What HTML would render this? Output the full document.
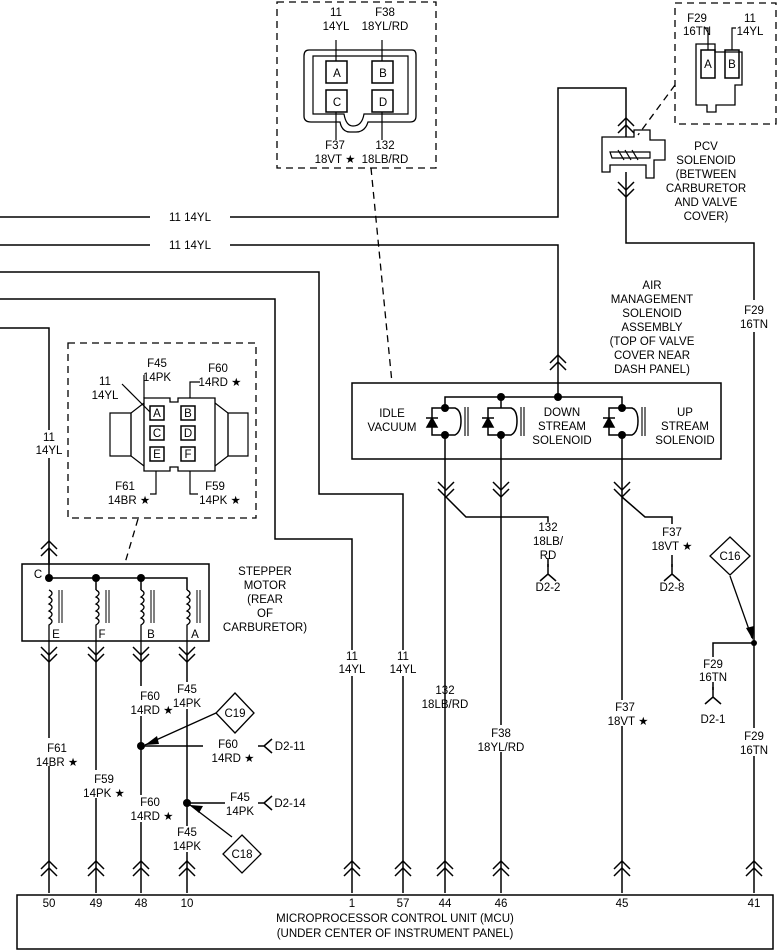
<!DOCTYPE html>
<html><head><meta charset="utf-8"><style>
html,body{margin:0;padding:0;background:#fff}
svg{display:block}
text{font-family:"Liberation Sans",sans-serif;font-size:11.5px;fill:#000;text-anchor:middle}
</style></head><body>
<svg width="783" height="950" viewBox="0 0 783 950" xmlns="http://www.w3.org/2000/svg">
<defs>
<g id="up" fill="none" stroke="#000" stroke-width="1.5"><path d="M-8,6 L0,-2 L8,6 M-8,13 L0,5 L8,13"/></g>
<g id="dn" fill="none" stroke="#000" stroke-width="1.5"><path d="M-8,-6 L0,2 L8,-6 M-8,-13 L0,-5 L8,-13"/></g>
<g id="yk" fill="none" stroke="#000" stroke-width="1.5"><path d="M0,-10 L0,0 M-8,7 L0,0 L8,7"/></g>
</defs>
<g fill="none" stroke="#000" stroke-width="1.5">
<path d="M0,217 H150 M230,217 H558 V88 H626 V137"/>
<path d="M0,245 H150 M230,245 H558 V380"/>
<path d="M0,272 H319 V494 H403 V650 M403,676 V893"/>
<path d="M0,299 H275 V539 H352 V650 M352,676 V893"/>
<path d="M0,328 H49 V430 M49,458 V563"/>
<path d="M626,172 V243 H754 V300 M754,332 V728 M754,756 V893"/>
<path d="M602,137 H634 V130 H650 V140 H665 V160 H654 V178 H646 V165 H610 V172 H602 Z" stroke-width="1.3"/>
<path d="M610,152 H650 V158 H612 Z" stroke-width="1.2"/>
<path d="M618,150 L624,160 M625,150 L631,160 M632,150 L638,160" stroke-width="1.2"/>
<path d="M696,44 H715 V52 H742 V85 H735 V105 H716 V112 H707 V105 H696 Z" stroke-width="1.3"/>
<rect x="701" y="50" width="14" height="28"/><rect x="725" y="50" width="14" height="28"/>
<path d="M708,50 V28 H704 M732,50 V28 H736" stroke-width="1.2"/>
<path d="M309,50 H412 Q416,50 416,55 V116 Q416,122 410,122 H368 Q365,132 356,132 H350 Q342,132 340,122 H311 Q304,122 304,116 V56 Q304,50 309,50 Z" stroke-width="1.3"/>
<path d="M313,56 H408 V114 H364 Q362,126 353,126 Q346,126 344,114 H313 Z" stroke-width="1.2"/>
<rect x="326" y="61" width="21" height="22"/><rect x="372" y="61" width="21" height="22"/>
<rect x="326" y="90" width="21" height="22"/><rect x="372" y="90" width="21" height="22"/>
<path d="M336,61 V40 M382,61 V40 M336,112 V140 M382,112 V140" stroke-width="1.2"/>
<rect x="352" y="383" width="369" height="76"/>
<path d="M445,408 V397 H622 V408 M501,397 V408 M558,397 V380"/>
<path d="M445,408 H432 V435 H445 M445,408 H455 Q461,410 461,421 Q461,432 455,435 H445 M445,435 V893"/>
<path d="M501,408 H488 V435 H501 M501,408 H511 Q517,410 517,421 Q517,432 511,435 H501 M501,435 V725 M501,752 V893"/>
<path d="M622,408 H609 V435 H622 M622,408 H632 Q638,410 638,421 Q638,432 632,435 H622 M622,435 V700 M622,726 V893"/>
<path d="M465,407 V436 M468,407 V436 M521,407 V436 M524,407 V436 M642,407 V436 M645,407 V436" stroke-width="1.1"/>
<path d="M427,427 L432,418 L437,427 Z M483,427 L488,418 L493,427 Z M604,427 L609,418 L614,427 Z" fill="#000"/>
<path d="M426,418 H438 M482,418 H494 M603,418 H615"/>
<path d="M446,497 L466,517 H548 V522"/>
<path d="M622,497 L645,517 H672 V524"/>
<path d="M548,558 V567 M672,555 V567"/>
<path d="M754,643 H713 V657 M713,682 V690"/>
<path d="M730,576 L752,638" stroke-width="1.3"/>
<rect x="22" y="564" width="187" height="77"/>
<path d="M49,548 V578 H187 V590 M96,578 V590 M141,578 V590"/>
<g stroke-width="1.3">
<path d="M49,590 q6,3 0,7 q6,3 0,7 q6,3 0,7 q6,3 0,7 q6,3 0,7 V652"/>
<path d="M96,590 q6,3 0,7 q6,3 0,7 q6,3 0,7 q6,3 0,7 q6,3 0,7 V652"/>
<path d="M141,590 q6,3 0,7 q6,3 0,7 q6,3 0,7 q6,3 0,7 q6,3 0,7 V652"/>
<path d="M187,590 q6,3 0,7 q6,3 0,7 q6,3 0,7 q6,3 0,7 q6,3 0,7 V652"/>
<path d="M59,590 V623 M62,590 V623 M106,590 V623 M109,590 V623 M151,590 V623 M154,590 V623 M197,590 V623 M200,590 V623" stroke-width="1"/>
</g>
<path d="M49,652 V738 M49,766 V893 M96,652 V770 M96,798 V893 M141,652 V686 M141,716 V795 M141,822 V893 M187,652 V682 M187,709 V826 M187,852 V893"/>
<path d="M141,746 H203 M187,803 H225"/>
<path d="M216,713 L145,745" stroke-width="1.3"/>
<path d="M232,837 L190,805" stroke-width="1.3"/>
<path d="M235,693 L254,713 L235,733 L216,713 Z" stroke-width="1.3"/>
<path d="M242,835 L261,854 L242,873 L223,854 Z" stroke-width="1.3"/>
<path d="M730,537 L750,556 L730,575 L710,556 Z" stroke-width="1.3"/>
<path d="M144,398 V375 M190,398 V382 H200 M156,471 V494 H150 M190,471 V494 H198" stroke-width="1.2"/>
<path d="M122,384 L150,412" stroke-width="1.2"/>
<path d="M144,398 H170 V402 H178 V398 H215 V471 H178 V467 H170 V471 H144 Z" stroke-width="1.3"/>
<path d="M144,403 L131,413 V456 L144,466 M215,403 L228,413 V456 L215,466" stroke-width="1.2"/>
<path d="M110,413 H131 V456 H110 Z M228,413 H248 V456 H228 Z" stroke-width="1.2"/>
<rect x="150" y="406" width="14" height="14"/><rect x="181" y="406" width="14" height="14"/>
<rect x="150" y="426" width="14" height="14"/><rect x="181" y="426" width="14" height="14"/>
<rect x="150" y="447" width="14" height="14"/><rect x="181" y="447" width="14" height="14"/>
<rect x="17" y="895" width="756" height="54"/>
</g>
<g fill="none" stroke="#000" stroke-width="1.3" stroke-dasharray="7,5">
<rect x="277" y="2" width="159" height="166"/>
<rect x="675" y="3" width="101" height="121"/>
<rect x="68" y="343" width="188" height="175"/>
<path d="M371,168 L392,383 M138,519 L125,563 M675,85 L638,135"/>
</g>
<use href="#up" x="626" y="120"/><use href="#dn" x="626" y="195"/>
<use href="#up" x="558" y="357"/>
<use href="#up" x="49" y="543"/>
<use href="#dn" x="446" y="495"/><use href="#dn" x="501" y="495"/><use href="#dn" x="622" y="495"/>
<use href="#dn" x="49" y="660"/><use href="#dn" x="96" y="660"/><use href="#dn" x="141" y="660"/><use href="#dn" x="187" y="660"/>
<use href="#up" x="49" y="863"/><use href="#up" x="96" y="863"/><use href="#up" x="141" y="863"/><use href="#up" x="187" y="863"/>
<use href="#up" x="352" y="863"/><use href="#up" x="403" y="863"/><use href="#up" x="445" y="863"/><use href="#up" x="501" y="863"/><use href="#up" x="622" y="863"/><use href="#up" x="754" y="863"/>
<use href="#yk" x="548" y="574"/><use href="#yk" x="672" y="574"/><use href="#yk" x="713" y="697"/>
<g fill="none" stroke="#000" stroke-width="1.5"><path d="M272,739 L264,746 L272,753 M264,746 H258 M272,796 L264,803 L272,810 M264,803 H258"/></g>
<path d="M753,640 L746,628 L754,626 Z M145,745 L157,736 L159,744 Z M190,805 L203,806 L199,813 Z" fill="#000"/>
<g fill="#000">
<circle cx="445" cy="408" r="4"/><circle cx="445" cy="435" r="4"/><circle cx="501" cy="397" r="4"/><circle cx="501" cy="435" r="4"/><circle cx="558" cy="397" r="4"/><circle cx="622" cy="408" r="4"/><circle cx="622" cy="435" r="4"/>
<circle cx="49" cy="578" r="4"/><circle cx="96" cy="578" r="4"/><circle cx="141" cy="578" r="4"/>
<circle cx="141" cy="746" r="4"/><circle cx="187" cy="803" r="4"/><circle cx="754" cy="643" r="3"/>
</g>
<text x="190" y="221">11  14YL</text><text x="190" y="249">11  14YL</text>
<text x="337" y="77">A</text><text x="383" y="77">B</text><text x="337" y="106">C</text><text x="383" y="106">D</text>
<text x="336" y="16">11</text><text x="336" y="30">14YL</text>
<text x="385" y="16">F38</text><text x="385" y="30">18YL/RD</text>
<text x="335" y="149">F37</text><text x="335" y="163">18VT ★</text><text x="385" y="149">132</text><text x="385" y="163">18LB/RD</text>
<text x="697" y="22">F29</text><text x="697" y="35">16TN</text><text x="750" y="22">11</text><text x="750" y="35">14YL</text>
<text x="708" y="68">A</text><text x="732" y="68">B</text>
<text x="706" y="150">PCV</text><text x="706" y="164">SOLENOID</text><text x="706" y="178">(BETWEEN</text><text x="706" y="192">CARBURETOR</text><text x="706" y="206">AND VALVE</text><text x="706" y="220">COVER)</text>
<text x="754" y="314">F29</text><text x="754" y="328">16TN</text>
<text x="652" y="289">AIR</text><text x="652" y="303">MANAGEMENT</text><text x="652" y="317">SOLENOID</text><text x="652" y="331">ASSEMBLY</text><text x="652" y="345">(TOP OF VALVE</text><text x="652" y="359">COVER NEAR</text><text x="652" y="373">DASH PANEL)</text>
<text x="392" y="417">IDLE</text><text x="392" y="431">VACUUM</text>
<text x="562" y="416">DOWN</text><text x="562" y="430">STREAM</text><text x="562" y="444">SOLENOID</text>
<text x="685" y="416">UP</text><text x="685" y="430">STREAM</text><text x="685" y="444">SOLENOID</text>
<text x="548" y="531">132</text><text x="548" y="545">18LB/</text><text x="548" y="559">RD</text><text x="548" y="591">D2-2</text>
<text x="672" y="536">F37</text><text x="672" y="550">18VT ★</text><text x="672" y="591">D2-8</text>
<text x="49" y="441">11</text><text x="49" y="454">14YL</text>
<text x="105" y="385">11</text><text x="105" y="399">14YL</text>
<text x="157" y="367">F45</text><text x="157" y="381">14PK</text>
<text x="218" y="372">F60</text><text x="220" y="386">14RD ★</text>
<text x="125" y="490">F61</text><text x="129" y="504">14BR ★</text>
<text x="215" y="490">F59</text><text x="220" y="504">14PK ★</text>
<text x="157" y="417" font-size="10.5">A</text><text x="188" y="417" font-size="10.5">B</text>
<text x="157" y="437" font-size="10.5">C</text><text x="188" y="437" font-size="10.5">D</text>
<text x="157" y="458" font-size="10.5">E</text><text x="188" y="458" font-size="10.5">F</text>
<text x="265" y="575">STEPPER</text><text x="265" y="589">MOTOR</text><text x="265" y="603">(REAR</text><text x="265" y="617">OF</text><text x="265" y="631">CARBURETOR)</text>
<text x="38" y="578">C</text><text x="56" y="638">E</text><text x="102" y="638">F</text><text x="151" y="638">B</text><text x="195" y="638">A</text>
<text x="150" y="700">F60</text><text x="152" y="714">14RD ★</text>
<text x="187" y="693">F45</text><text x="187" y="707">14PK</text>
<text x="235" y="717">C19</text><text x="242" y="858">C18</text><text x="730" y="560">C16</text>
<text x="228" y="748">F60</text><text x="233" y="762">14RD ★</text><text x="290" y="750">D2-11</text>
<text x="240" y="801">F45</text><text x="240" y="815">14PK</text><text x="290" y="807">D2-14</text>
<text x="150" y="806">F60</text><text x="152" y="820">14RD ★</text>
<text x="187" y="836">F45</text><text x="187" y="850">14PK</text>
<text x="57" y="752">F61</text><text x="57" y="766">14BR ★</text>
<text x="104" y="783">F59</text><text x="104" y="797">14PK ★</text>
<text x="352" y="660">11</text><text x="352" y="673">14YL</text>
<text x="403" y="660">11</text><text x="403" y="673">14YL</text>
<text x="445" y="694">132</text><text x="445" y="708">18LB/RD</text>
<text x="501" y="737">F38</text><text x="501" y="751">18YL/RD</text>
<text x="625" y="711">F37</text><text x="628" y="725">18VT ★</text>
<text x="713" y="668">F29</text><text x="713" y="681">16TN</text><text x="713" y="723">D2-1</text>
<text x="754" y="740">F29</text><text x="754" y="754">16TN</text>
<text x="49" y="907">50</text><text x="96" y="907">49</text><text x="141" y="907">48</text><text x="187" y="907">10</text>
<text x="352" y="907">1</text><text x="403" y="907">57</text><text x="445" y="907">44</text><text x="501" y="907">46</text><text x="622" y="907">45</text><text x="754" y="907">41</text>
<text x="395" y="922">MICROPROCESSOR CONTROL UNIT (MCU)</text>
<text x="395" y="937">(UNDER CENTER OF INSTRUMENT PANEL)</text>
</svg>
</body></html>
